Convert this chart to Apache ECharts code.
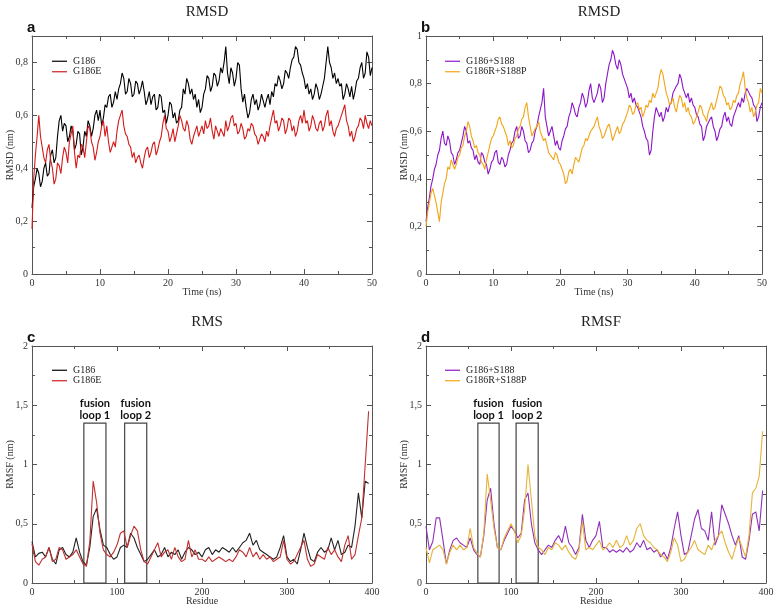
<!DOCTYPE html>
<html>
<head>
<meta charset="utf-8">
<script src="https://cdn.jsdelivr.net/npm/echarts@6/dist/echarts.min.js"></script>
<style>html,body{margin:0;padding:0;background:#fff}#c{width:777px;height:611px}</style>
</head>
<body>
<div id="c"></div>
<script>
// ---------- data ----------
const timeStep = 0.25;     // ns between samples
const residueStep = 4;     // residues between samples

const rmsdG186 = [
0.25,0.33,0.36,0.40,0.38,0.33,0.35,0.40,0.42,0.37,0.38,0.45,0.47,0.42,0.44,0.52,0.58,0.60,0.54,0.57,
0.56,0.50,0.52,0.56,0.54,0.47,0.49,0.54,0.53,0.45,0.48,0.54,0.52,0.58,0.56,0.52,0.55,0.60,0.62,0.58,
0.62,0.56,0.59,0.64,0.63,0.67,0.68,0.63,0.65,0.69,0.66,0.70,0.72,0.76,0.74,0.68,0.69,0.74,0.72,0.67,
0.68,0.73,0.72,0.68,0.70,0.73,0.69,0.64,0.66,0.69,0.64,0.67,0.68,0.62,0.63,0.68,0.67,0.61,0.62,0.57,
0.60,0.65,0.64,0.59,0.61,0.57,0.58,0.62,0.63,0.70,0.68,0.74,0.72,0.68,0.70,0.66,0.68,0.63,0.66,0.61,
0.63,0.68,0.70,0.75,0.74,0.69,0.71,0.76,0.75,0.71,0.73,0.78,0.76,0.80,0.86,0.76,0.72,0.78,0.76,0.71,
0.74,0.80,0.79,0.70,0.65,0.68,0.63,0.59,0.61,0.66,0.68,0.64,0.66,0.62,0.64,0.68,0.68,0.63,0.66,0.68,
0.64,0.69,0.67,0.72,0.71,0.75,0.73,0.70,0.72,0.77,0.76,0.74,0.78,0.81,0.82,0.86,0.85,0.80,0.79,0.76,
0.74,0.70,0.72,0.68,0.70,0.66,0.68,0.72,0.70,0.66,0.68,0.71,0.74,0.80,0.86,0.80,0.78,0.74,0.76,0.72,
0.74,0.71,0.72,0.66,0.68,0.72,0.70,0.67,0.71,0.66,0.69,0.73,0.74,0.78,0.80,0.74,0.76,0.84,0.82,0.75,
0.78];
const rmsdG186E = [
0.17,0.36,0.45,0.52,0.60,0.52,0.48,0.44,0.42,0.47,0.49,0.43,0.40,0.34,0.36,0.42,0.41,0.38,0.44,0.48,
0.46,0.42,0.50,0.53,0.56,0.46,0.40,0.45,0.44,0.49,0.48,0.44,0.50,0.56,0.55,0.50,0.48,0.43,0.46,0.50,
0.52,0.56,0.58,0.52,0.56,0.50,0.46,0.48,0.50,0.48,0.54,0.58,0.60,0.62,0.56,0.53,0.52,0.49,0.48,0.44,
0.46,0.42,0.44,0.45,0.42,0.40,0.44,0.47,0.48,0.44,0.46,0.49,0.50,0.45,0.47,0.50,0.52,0.57,0.60,0.55,
0.54,0.50,0.52,0.55,0.50,0.53,0.56,0.60,0.58,0.55,0.54,0.58,0.56,0.51,0.49,0.52,0.54,0.56,0.52,0.54,
0.56,0.53,0.58,0.55,0.56,0.59,0.54,0.51,0.56,0.54,0.52,0.55,0.55,0.52,0.58,0.54,0.56,0.59,0.60,0.56,
0.57,0.53,0.54,0.57,0.55,0.51,0.52,0.55,0.54,0.57,0.56,0.53,0.52,0.49,0.51,0.53,0.52,0.50,0.54,0.52,
0.56,0.59,0.62,0.57,0.58,0.54,0.56,0.59,0.58,0.53,0.55,0.59,0.58,0.54,0.56,0.52,0.54,0.58,0.60,0.57,
0.62,0.57,0.58,0.54,0.56,0.60,0.58,0.55,0.54,0.57,0.58,0.54,0.56,0.60,0.62,0.56,0.58,0.54,0.52,0.55,
0.56,0.58,0.60,0.62,0.64,0.58,0.56,0.52,0.54,0.50,0.52,0.55,0.56,0.59,0.58,0.55,0.60,0.57,0.55,0.58,
0.56];
const rmsdG186S188 = [
0.22,0.28,0.32,0.37,0.40,0.44,0.46,0.50,0.52,0.57,0.60,0.55,0.54,0.58,0.56,0.51,0.50,0.46,0.48,0.51,
0.52,0.55,0.58,0.62,0.60,0.55,0.56,0.53,0.52,0.48,0.50,0.47,0.46,0.51,0.50,0.47,0.46,0.42,0.44,0.47,
0.48,0.51,0.52,0.47,0.46,0.49,0.48,0.45,0.46,0.50,0.52,0.55,0.56,0.60,0.62,0.57,0.58,0.62,0.60,0.56,
0.55,0.51,0.52,0.55,0.56,0.60,0.62,0.66,0.66,0.72,0.78,0.66,0.62,0.58,0.60,0.62,0.58,0.54,0.56,0.53,
0.52,0.56,0.58,0.61,0.62,0.66,0.68,0.72,0.70,0.67,0.66,0.70,0.72,0.76,0.74,0.70,0.72,0.77,0.80,0.74,
0.72,0.74,0.76,0.80,0.78,0.72,0.74,0.80,0.84,0.88,0.90,0.94,0.92,0.88,0.86,0.90,0.88,0.84,0.82,0.80,
0.78,0.74,0.76,0.72,0.74,0.71,0.70,0.68,0.66,0.62,0.60,0.57,0.56,0.50,0.52,0.60,0.66,0.70,0.70,0.66,
0.68,0.64,0.66,0.70,0.68,0.71,0.72,0.76,0.76,0.79,0.80,0.84,0.82,0.78,0.78,0.74,0.76,0.72,0.74,0.71,
0.70,0.67,0.66,0.63,0.62,0.56,0.58,0.62,0.62,0.65,0.66,0.62,0.60,0.56,0.58,0.61,0.62,0.66,0.68,0.64,
0.66,0.63,0.62,0.66,0.68,0.70,0.72,0.70,0.74,0.72,0.76,0.78,0.78,0.75,0.74,0.71,0.70,0.64,0.66,0.70,
0.72];
const rmsdG186RS188P = [
0.20,0.26,0.30,0.34,0.36,0.33,0.30,0.26,0.22,0.30,0.34,0.38,0.40,0.45,0.44,0.48,0.48,0.44,0.46,0.49,
0.50,0.53,0.54,0.58,0.60,0.64,0.62,0.58,0.56,0.53,0.54,0.51,0.50,0.47,0.46,0.44,0.48,0.51,0.54,0.57,
0.58,0.60,0.62,0.65,0.66,0.63,0.62,0.60,0.58,0.54,0.56,0.53,0.54,0.57,0.58,0.61,0.62,0.65,0.66,0.70,
0.72,0.66,0.62,0.58,0.58,0.61,0.62,0.64,0.60,0.58,0.56,0.57,0.54,0.51,0.50,0.49,0.48,0.51,0.50,0.47,
0.46,0.44,0.42,0.38,0.39,0.43,0.44,0.42,0.46,0.49,0.48,0.47,0.50,0.53,0.54,0.57,0.56,0.58,0.60,0.61,
0.62,0.64,0.66,0.62,0.60,0.57,0.58,0.60,0.62,0.63,0.60,0.56,0.58,0.60,0.62,0.59,0.60,0.63,0.64,0.66,
0.68,0.71,0.70,0.67,0.68,0.71,0.72,0.69,0.70,0.66,0.68,0.71,0.70,0.73,0.72,0.76,0.74,0.76,0.78,0.83,
0.86,0.84,0.80,0.76,0.74,0.71,0.72,0.74,0.70,0.68,0.72,0.75,0.74,0.70,0.72,0.68,0.70,0.67,0.66,0.63,
0.64,0.66,0.68,0.71,0.70,0.67,0.66,0.64,0.68,0.70,0.72,0.69,0.70,0.73,0.76,0.79,0.78,0.75,0.74,0.71,
0.72,0.69,0.70,0.73,0.72,0.75,0.76,0.80,0.82,0.85,0.78,0.74,0.72,0.68,0.70,0.66,0.68,0.71,0.72,0.78,
0.76];

const rmsfG186 = [
0.35,0.22,0.25,0.26,0.22,0.30,0.20,0.16,0.28,0.30,
0.24,0.22,0.26,0.38,0.26,0.18,0.15,0.30,0.56,0.63,
0.45,0.32,0.30,0.24,0.20,0.22,0.30,0.32,0.30,0.42,
0.38,0.30,0.24,0.18,0.20,0.24,0.28,0.22,0.24,0.30,
0.22,0.26,0.24,0.28,0.20,0.26,0.30,0.28,0.24,0.26,
0.22,0.28,0.30,0.24,0.28,0.26,0.30,0.28,0.26,0.30,
0.26,0.30,0.34,0.36,0.42,0.32,0.36,0.28,0.26,0.24,
0.22,0.20,0.22,0.30,0.40,0.22,0.18,0.20,0.16,0.28,
0.42,0.30,0.20,0.18,0.26,0.30,0.26,0.28,0.38,0.28,
0.36,0.24,0.26,0.32,0.30,0.48,0.76,0.55,0.86,0.84];
const rmsfG186E = [
0.33,0.18,0.15,0.20,0.22,0.30,0.18,0.20,0.30,0.28,
0.20,0.22,0.24,0.28,0.22,0.16,0.14,0.35,0.86,0.68,
0.42,0.28,0.24,0.22,0.26,0.32,0.42,0.44,0.30,0.40,
0.48,0.44,0.28,0.18,0.16,0.22,0.28,0.34,0.22,0.26,
0.28,0.20,0.30,0.22,0.18,0.20,0.36,0.22,0.28,0.20,
0.20,0.18,0.22,0.18,0.20,0.22,0.20,0.18,0.20,0.18,
0.22,0.28,0.26,0.22,0.30,0.22,0.26,0.20,0.24,0.20,
0.22,0.18,0.20,0.22,0.36,0.20,0.16,0.18,0.24,0.30,
0.36,0.20,0.14,0.16,0.24,0.22,0.20,0.30,0.24,0.28,
0.22,0.18,0.32,0.40,0.20,0.24,0.40,0.55,1.00,1.45];
const rmsfG186S188 = [
0.48,0.28,0.35,0.55,0.55,0.36,0.16,0.28,0.36,0.38,
0.34,0.32,0.30,0.38,0.28,0.24,0.22,0.40,0.70,0.80,
0.50,0.30,0.28,0.36,0.42,0.48,0.44,0.38,0.42,0.70,
0.76,0.50,0.34,0.28,0.24,0.28,0.32,0.30,0.36,0.40,
0.34,0.48,0.34,0.30,0.24,0.30,0.58,0.36,0.30,0.36,
0.40,0.52,0.30,0.30,0.26,0.28,0.26,0.28,0.26,0.30,
0.26,0.28,0.34,0.30,0.36,0.28,0.30,0.26,0.28,0.22,
0.26,0.20,0.30,0.46,0.60,0.40,0.24,0.26,0.40,0.54,
0.62,0.46,0.44,0.36,0.60,0.32,0.40,0.66,0.58,0.50,
0.40,0.32,0.40,0.22,0.20,0.36,0.58,0.60,0.44,0.78];
const rmsfG186RS188P = [
0.30,0.17,0.28,0.30,0.32,0.28,0.16,0.26,0.32,0.28,
0.32,0.28,0.30,0.46,0.30,0.25,0.22,0.42,0.92,0.70,
0.46,0.30,0.28,0.38,0.44,0.50,0.44,0.34,0.40,0.62,
1.00,0.70,0.40,0.30,0.28,0.24,0.30,0.28,0.34,0.32,
0.28,0.32,0.26,0.22,0.20,0.28,0.52,0.28,0.30,0.28,
0.32,0.36,0.28,0.30,0.34,0.30,0.36,0.30,0.32,0.40,
0.32,0.36,0.46,0.50,0.40,0.36,0.34,0.30,0.28,0.24,
0.22,0.18,0.26,0.38,0.32,0.18,0.20,0.26,0.30,0.36,
0.28,0.26,0.24,0.32,0.28,0.36,0.40,0.44,0.34,0.26,
0.20,0.30,0.38,0.30,0.22,0.40,0.76,0.80,0.90,1.28];

// fusion loop boxes [start residue, end residue], box height (nm)
const loopsC = [[61, 87], [109, 135]];
const loopsD = [[61, 86], [106, 132]];
const loopLabels = ['fusion\nloop 1', 'fusion\nloop 2'];
const loopTop = 1.35;

const titles = ['RMSD', 'RMSD', 'RMS', 'RMSF'];
const letters = ['a', 'b', 'c', 'd'];
const legendA = ['G186', 'G186E'];
const legendB = ['G186+S188', 'G186R+S188P'];

// ---------- chart ----------
const SERIF = 'Liberation Serif';
const AX = '#555';
const grids = [
  {left: 32, top: 36, width: 340, height: 238},
  {left: 426, top: 36, width: 336, height: 238},
  {left: 32, top: 346, width: 340, height: 237},
  {left: 426, top: 346, width: 340, height: 237}
];
const fmt = step => v => {
  const k = v / step;
  if (Math.abs(k - Math.round(k)) > 1e-6) return '';
  return String(+v.toFixed(2)).replace('.', ',');
};
function axisPair(dim, gi, min, max, interval, name, nameGap) {
  const common = {
    type: 'value', gridIndex: gi, min, max, interval,
    axisLine: {show: true, onZero: false, lineStyle: {color: AX, width: 1}},
    axisTick: {show: true, inside: true, length: 5, lineStyle: {color: AX, width: 1}},
    minorTick: {show: true, splitNumber: 2, length: 3, lineStyle: {color: AX, width: 1}},
    splitLine: {show: false}, minorSplitLine: {show: false}
  };
  const main = Object.assign({}, common, {
    position: dim === 'x' ? 'bottom' : 'left',
    name, nameLocation: 'middle', nameGap, nameMoveOverlap: false,
    nameTextStyle: {fontFamily: SERIF, fontSize: 10, color: '#333'},
    axisLabel: {fontFamily: SERIF, fontSize: 10, color: '#333', margin: 4, formatter: fmt(interval)}
  });
  const mirror = Object.assign({}, common, {
    position: dim === 'x' ? 'top' : 'right',
    axisLabel: {show: false}
  });
  return [main, mirror];
}
const xAxis = [].concat(
  axisPair('x', 0, 0, 50, 10, 'Time (ns)', 13),
  axisPair('x', 1, 0, 50, 10, 'Time (ns)', 13),
  axisPair('x', 2, 0, 400, 100, 'Residue', 13),
  axisPair('x', 3, 0, 400, 100, 'Residue', 13)
);
const yAxis = [].concat(
  axisPair('y', 0, 0, 0.9, 0.2, 'RMSD (nm)', 17),
  axisPair('y', 1, 0, 1, 0.2, 'RMSD (nm)', 17),
  axisPair('y', 2, 0, 2, 0.5, 'RMSF (nm)', 17),
  axisPair('y', 3, 0, 2, 0.5, 'RMSF (nm)', 17)
);
const pairs = (step, arr) => arr.map((v, i) => [+(i * step).toFixed(3), v]);
function boxes(loops) {
  return {
    silent: true,
    itemStyle: {color: 'rgba(0,0,0,0)', borderColor: '#444', borderWidth: 1.2},
    label: {show: true, position: 'top', distance: 1, fontFamily: 'Lato', fontWeight: 'bold',
            fontSize: 11, lineHeight: 12, color: '#111', align: 'center'},
    emphasis: {disabled: true},
    data: loops.map((l, i) => [{xAxis: l[0], yAxis: 0, name: loopLabels[i]}, {xAxis: l[1], yAxis: loopTop}])
  };
}
function line(name, gi, data, color, extra) {
  return Object.assign({
    type: 'line', name, xAxisIndex: gi * 2, yAxisIndex: gi * 2, data,
    symbol: 'none', showSymbol: false, animation: false,
    lineStyle: {width: 1.1, color}, itemStyle: {color}
  }, extra || {});
}
const series = [
  line('G186', 0, pairs(timeStep, rmsdG186), '#000000'),
  line('G186E', 0, pairs(timeStep, rmsdG186E), '#d41a1a'),
  line('G186+S188', 1, pairs(timeStep, rmsdG186S188), '#8c16c8'),
  line('G186R+S188P', 1, pairs(timeStep, rmsdG186RS188P), '#f2a516'),
  line('G186', 2, pairs(residueStep, rmsfG186), '#222222', {markArea: boxes(loopsC)}),
  line('G186E', 2, pairs(residueStep, rmsfG186E), '#c0302f'),
  line('G186+S188', 3, pairs(residueStep, rmsfG186S188), '#9030b8', {markArea: boxes(loopsD)}),
  line('G186R+S188P', 3, pairs(residueStep, rmsfG186RS188P), '#e6b33a')
];
const legendPos = [[52, 56], [445, 56], [52, 365], [445, 365]];
const legend = legendPos.map((p, i) => ({
  data: (i % 2 === 0 ? legendA : legendB),
  left: p[0], top: p[1], orient: 'vertical', itemGap: 0, padding: 0,
  icon: 'rect', itemWidth: 15, itemHeight: 1.2, selectedMode: false,
  textStyle: {fontFamily: SERIF, fontSize: 10, lineHeight: 10.5, color: '#222', padding: [0, 0, 0, 1]}
}));
const title = [];
grids.forEach((g, i) => {
  title.push({text: titles[i], left: g.left + g.width / 2, textAlign: 'center', top: g.top - 36,
    textStyle: {fontFamily: SERIF, fontWeight: 'normal', fontSize: 15, color: '#222'}});
  title.push({text: letters[i], left: g.left - 10, top: g.top - 21,
    textStyle: {fontFamily: 'Liberation Sans', fontWeight: 'bold', fontSize: 15, color: '#111'}});
});
const chart = echarts.init(document.getElementById('c'), null, {renderer: 'canvas'});
chart.setOption({
  animation: false,
  backgroundColor: '#ffffff',
  title, legend,
  grid: grids.map(g => Object.assign({containLabel: false}, g)),
  xAxis, yAxis, series
});
</script>
</body>
</html>
